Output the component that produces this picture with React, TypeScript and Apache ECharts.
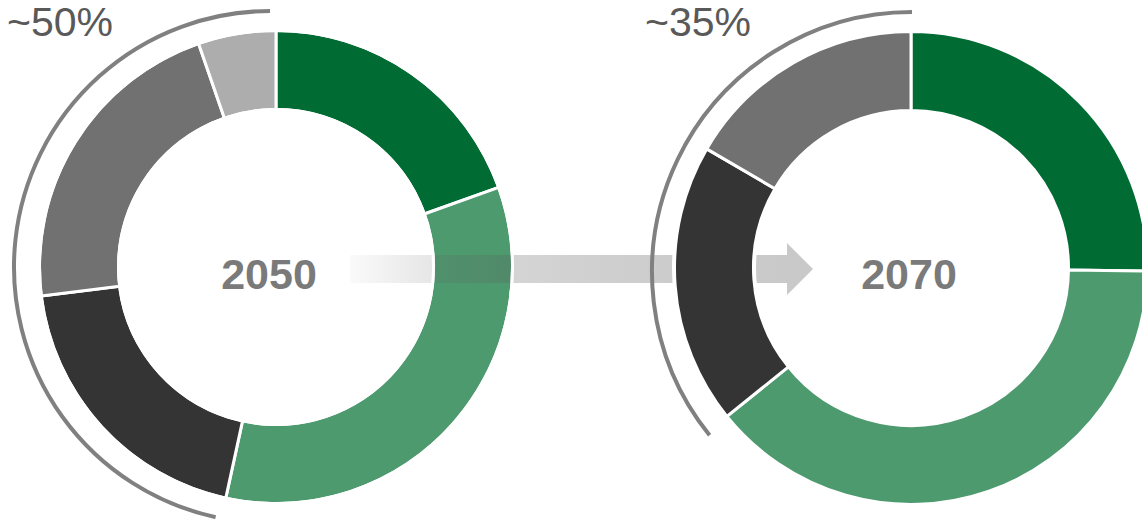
import React, { useEffect, useRef } from "react";
import * as echarts from "echarts";

const years = ["2050", "2070"];
const segmentNames = ["Green A", "Green B", "Dark grey", "Mid grey", "Light grey"];
const segmentColors = ["#006B33", "#4E9A6F", "#343434", "#717171", "#ADADAD"];
const values2050 = [19.5, 33.8, 19.6, 21.6, 5.3];
const values2070 = [25.2, 39.0, 19.2, 16.6, 0];
const greyShareLabels = ["~50%", "~35%"];
const firstGreyIndex = 2;

const W = 1142;
const H = 519;

function pieData(values: number[]) {
  return values
    .map((v, i) => ({ name: segmentNames[i], value: v, itemStyle: { color: segmentColors[i] } }))
    .filter((d) => d.value > 0);
}

function greyStartAngle(values: number[]) {
  const total = values.reduce((a, b) => a + b, 0);
  const before = values.slice(0, firstGreyIndex).reduce((a, b) => a + b, 0);
  const clockDeg = (before / total) * 360;
  return ((clockDeg - 90) * Math.PI) / 180;
}

export default function App() {
  const ref = useRef<HTMLDivElement>(null);
  useEffect(() => {
    if (!ref.current) return;
    const chart = echarts.init(ref.current, undefined, { renderer: "svg" });
    const centers = [
      [276, 267],
      [911, 268],
    ];
    const arcs = [
      { cx: 270, cy: 267, r: 256 },
      { cx: 912, cy: 272, r: 260 },
    ];
    const outerR = 236.5;
    const innerR = 157.5;
    const allValues = [values2050, values2070];

    const series: any[] = allValues.map((vals, i) => ({
      type: "pie",
      name: years[i],
      z: i === 0 ? 1 : 5,
      silent: true,
      center: centers[i],
      radius: [innerR, outerR],
      startAngle: 90,
      clockwise: true,
      label: { show: false },
      labelLine: { show: false },
      itemStyle: { borderColor: "#ffffff", borderWidth: 3 },
      data: pieData(vals),
    }));

    const arrowFill = new echarts.graphic.LinearGradient(0, 0, 1, 0, [
      { offset: 0, color: "rgba(90,90,90,0.03)" },
      { offset: 0.177, color: "rgba(90,90,90,0.15)" },
      { offset: 0.352, color: "rgba(90,90,90,0.26)" },
      { offset: 0.698, color: "rgba(90,90,90,0.31)" },
      { offset: 1, color: "rgba(90,90,90,0.33)" },
    ]);

    const graphic: any[] = [
      {
        type: "polygon",
        z: 3,
        silent: true,
        shape: {
          points: [
            [350, 255],
            [787, 255],
            [787, 243],
            [813, 269],
            [787, 295],
            [787, 283],
            [350, 283],
          ],
        },
        style: { fill: arrowFill },
      },
      {
        type: "circle",
        z: 3.5,
        silent: true,
        shape: { cx: centers[0][0], cy: centers[0][1], r: outerR },
        style: { fill: "none", stroke: "#ffffff", lineWidth: 3 },
      },
      {
        type: "circle",
        z: 3.5,
        silent: true,
        shape: { cx: centers[0][0], cy: centers[0][1], r: innerR },
        style: { fill: "none", stroke: "#ffffff", lineWidth: 3 },
      },
      {
        type: "ring",
        z: 4,
        silent: true,
        shape: { cx: centers[1][0], cy: centers[1][1], r: 239, r0: 155 },
        style: { fill: "#ffffff" },
      },
    ];

    allValues.forEach((vals, i) => {
      graphic.push({
        type: "arc",
        z: 6,
        silent: true,
        shape: {
          cx: arcs[i].cx,
          cy: arcs[i].cy,
          r: arcs[i].r,
          startAngle: greyStartAngle(vals),
          endAngle: (270 * Math.PI) / 180,
          clockwise: true,
        },
        style: { stroke: "#808080", lineWidth: 4, fill: "none" },
      });
    });

    const shareX = [7, 645];
    greyShareLabels.forEach((t, i) => {
      graphic.push({
        type: "text",
        z: 7,
        silent: true,
        x: shareX[i],
        y: 22,
        style: {
          text: t,
          font: '41px "Liberation Sans", Arial, sans-serif',
          fill: "#595959",
          textAlign: "left",
          textVerticalAlign: "middle",
        },
      });
    });

    const yearX = [269, 909];
    years.forEach((t, i) => {
      graphic.push({
        type: "text",
        z: 7,
        silent: true,
        x: yearX[i],
        y: 274,
        style: {
          text: t,
          font: 'bold 43px "Liberation Sans", Arial, sans-serif',
          fill: "#7A7A7A",
          textAlign: "center",
          textVerticalAlign: "middle",
        },
      });
    });

    chart.setOption({
      animation: false,
      backgroundColor: "#ffffff",
      series,
      graphic,
    });
    return () => chart.dispose();
  }, []);

  return (
    <div
      ref={ref}
      style={{ position: "absolute", left: 0, top: 0, width: W, height: H }}
    />
  );
}
